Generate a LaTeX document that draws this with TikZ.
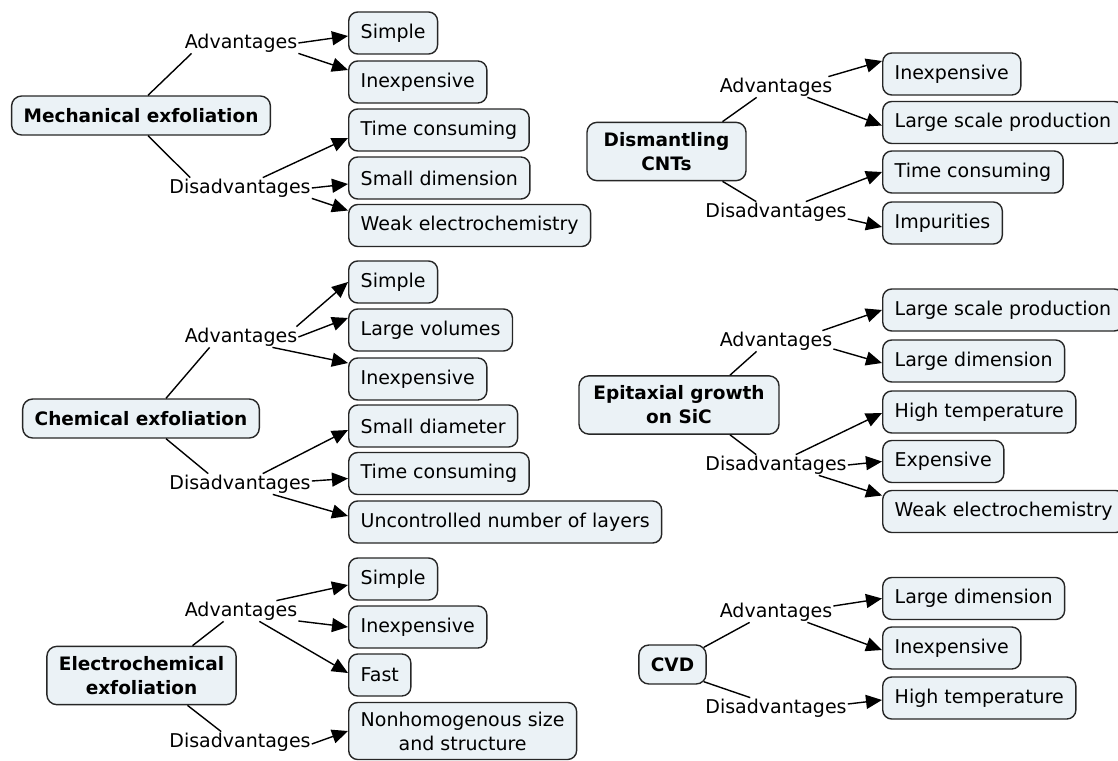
\documentclass[tikz,border=0pt]{standalone}
\usepackage{fontspec}
\setmainfont{DejaVu Sans}
\usetikzlibrary{arrows.meta}
\definecolor{boxfill}{RGB}{235,242,246}
\begin{document}
\begin{tikzpicture}[x=1pt,y=-1pt,
  font=\fontsize{19}{24}\selectfont,
  box/.style={draw=black!85, line width=1.4pt, fill=boxfill, rounded corners=9pt, minimum height=42pt, inner xsep=12pt, anchor=west, align=center},
  mainbox/.style={draw=black!85, line width=1.4pt, fill=boxfill, rounded corners=10pt, inner xsep=12pt, inner ysep=10pt, font=\fontsize{18.5}{24}\selectfont\bfseries, align=center, minimum height=39pt},
  lab/.style={inner sep=1pt},
  link/.style={line width=1.4pt},
  arr/.style={line width=1.4pt, -{Triangle[length=16pt,width=14pt]}}]
\useasboundingbox (0,0) rectangle (1118,760);

% ---------- Group 1: Mechanical exfoliation
\node[mainbox] (mech) at (141,115.5) {Mechanical exfoliation};
\node[lab] (adv1) at (241,43) {Advantages};
\node[lab] (dis1) at (240,188) {Disadvantages};
\node[box] (s1) at (348,33) {Simple};
\node[box] (i1) at (348,82) {Inexpensive};
\node[box] (t1) at (348,130) {Time consuming};
\node[box] (sm1) at (348,178) {Small dimension};
\node[box] (w1) at (348,225.5) {Weak electrochemistry};
\draw[link] ([xshift=7pt]mech.north) -- ([xshift=8pt]adv1.south west);
\draw[link] ([xshift=7pt]mech.south) -- ([xshift=22pt]dis1.north west);
\draw[arr] (adv1.east) -- ([yshift=-3pt]s1.west);
\draw[arr] (adv1.south east) -- ([yshift=12pt]i1.west);
\draw[arr] ([xshift=-49pt]dis1.north east) -- ([yshift=-8pt]t1.west);
\draw[arr] (dis1.east) -- ([yshift=-6pt]sm1.west);
\draw[arr] (dis1.south east) -- ([yshift=15pt]w1.west);

% ---------- Group 2: Dismantling CNTs
\node[mainbox, minimum width=159pt] (cnt) at (666.5,151.5) {Dismantling\\CNTs};
\node[lab] (adv2) at (776,87) {Advantages};
\node[lab] (dis2) at (776,212) {Disadvantages};
\node[box] (i2) at (882,74) {Inexpensive};
\node[box] (l2) at (882,122.5) {Large scale production};
\node[box] (t2) at (882,172) {Time consuming};
\node[box] (imp2) at (882,223) {Impurities};
\draw[link] ([xshift=56pt]cnt.north) -- ([xshift=38pt]adv2.south west);
\draw[link] ([xshift=56pt]cnt.south) -- ([xshift=52pt]dis2.north west);
\draw[arr] ([xshift=-5pt]adv2.north east) -- ([yshift=13pt]i2.west);
\draw[arr] ([xshift=-26pt]adv2.south east) -- ([yshift=-3pt]l2.west);
\draw[arr] ([xshift=-42pt]dis2.north east) -- (t2.west);
\draw[arr] ([yshift=-7pt]dis2.east) -- ([yshift=-4pt]imp2.west);

% ---------- Group 3: Chemical exfoliation
\node[mainbox] (chem) at (141,418.5) {Chemical exfoliation};
\node[lab] (adv3) at (241,337) {Advantages};
\node[lab] (dis3) at (240,484) {Disadvantages};
\node[box] (s3) at (348,282) {Simple};
\node[box] (lv3) at (348,330) {Large volumes};
\node[box] (in3) at (348,379) {Inexpensive};
\node[box] (sd3) at (348,426) {Small diameter};
\node[box] (tc3) at (348,473.5) {Time consuming};
\node[box] (un3) at (348,522) {Uncontrolled number of layers};
\draw[link] ([xshift=25pt]chem.north) -- ([xshift=26pt]adv3.south west);
\draw[link] ([xshift=25pt]chem.south) -- ([xshift=40pt]dis3.north west);
\draw[arr] ([xshift=-2pt]adv3.north east) -- (s3.west);
\draw[arr] (adv3.east) -- ([yshift=12pt]lv3.west);
\draw[arr] ([xshift=-26pt]adv3.south east) -- ([yshift=16pt]in3.west);
\draw[arr] ([xshift=-49pt]dis3.north east) -- ([yshift=-4pt]sd3.west);
\draw[arr] ([yshift=3pt]dis3.east) -- ([yshift=-5pt]tc3.west);
\draw[arr] ([xshift=-39pt]dis3.south east) -- ([yshift=6pt]un3.west);

% ---------- Group 4: Epitaxial growth on SiC
\node[mainbox, minimum width=200pt] (epi) at (679,405) {Epitaxial growth\\on SiC};
\node[lab] (adv4) at (776,341) {Advantages};
\node[lab] (dis4) at (776,465) {Disadvantages};
\node[box] (ls4) at (882,310) {Large scale production};
\node[box] (ld4) at (882,361) {Large dimension};
\node[box] (ht4) at (882,412) {High temperature};
\node[box] (ex4) at (882,461.5) {Expensive};
\node[box] (we4) at (882,511.5) {Weak electrochemistry};
\draw[link] ([xshift=51pt]epi.north) -- ([xshift=38pt]adv4.south west);
\draw[link] ([xshift=51pt]epi.south) -- ([xshift=52pt]dis4.north west);
\draw[arr] ([xshift=-11pt]adv4.north east) -- (ls4.west);
\draw[arr] ([yshift=-8pt]adv4.east) -- ([yshift=-2pt]ld4.west);
\draw[arr] ([xshift=-52pt]dis4.north east) -- ([yshift=-1pt]ht4.west);
\draw[arr] (dis4.east) -- (ex4.west);
\draw[arr] ([xshift=-29pt]dis4.south east) -- ([yshift=16pt]we4.west);

% ---------- Group 5: Electrochemical exfoliation
\node[mainbox] (ele) at (141.5,675.5) {Electrochemical\\exfoliation};
\node[lab] (adv5) at (241,611) {Advantages};
\node[lab] (dis5) at (240,742) {Disadvantages};
\node[box] (s5) at (348,579) {Simple};
\node[box] (i5) at (348,627) {Inexpensive};
\node[box] (f5) at (348,675) {Fast};
\node[box, minimum height=57pt] (n5) at (348,731) {Nonhomogenous size\\and structure};
\draw[link] ([xshift=51pt]ele.north) -- ([xshift=40pt]adv5.south west);
\draw[link] ([xshift=46pt]ele.south) -- ([xshift=53pt]dis5.north west);
\draw[arr] ([xshift=-22pt]adv5.north east) -- ([yshift=-6pt]s5.west);
\draw[arr] ([yshift=-10pt]adv5.east) -- (i5.west);
\draw[arr] ([xshift=-39pt]adv5.south east) -- ([yshift=2pt]f5.west);
\draw[arr] ([yshift=-2pt]dis5.east) -- (n5.west);

% ---------- Group 6: CVD
\node[mainbox] (cvd) at (672.5,664.5) {CVD};
\node[lab] (adv6) at (776,612) {Advantages};
\node[lab] (dis6) at (776,708) {Disadvantages};
\node[box] (ld6) at (882,598.5) {Large dimension};
\node[box] (in6) at (882,648) {Inexpensive};
\node[box] (ht6) at (882,698) {High temperature};
\draw[link] ([xshift=-3pt,yshift=-3pt]cvd.north east) -- ([xshift=31pt]adv6.south west);
\draw[link] ([xshift=-3pt,yshift=3pt]cvd.south east) -- ([xshift=46pt]dis6.north west);
\draw[arr] ([yshift=6pt]adv6.east) -- (ld6.west);
\draw[arr] ([xshift=-26pt]adv6.south east) -- ([yshift=-2pt]in6.west);
\draw[arr] ([yshift=4pt]dis6.east) -- ([yshift=-2pt]ht6.west);
\end{tikzpicture}
\end{document}
